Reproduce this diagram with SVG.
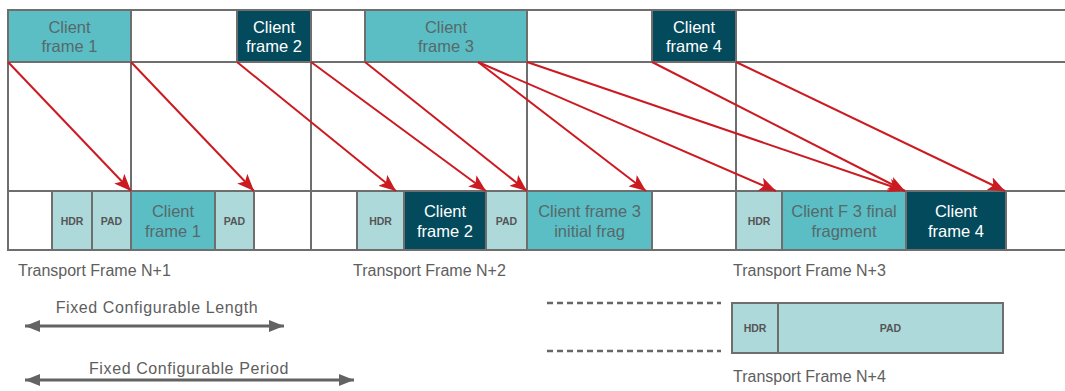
<svg xmlns="http://www.w3.org/2000/svg" width="1065" height="391" viewBox="0 0 1065 391">
<style>
.tl{fill:#5BBEC4;stroke:#6E6E6E;stroke-width:2}
.dk{fill:#034A5C;stroke:#6E6E6E;stroke-width:2}
.lt{fill:#ADD9DB;stroke:#6E6E6E;stroke-width:2}
.wh{fill:#FFFFFF;stroke:#6E6E6E;stroke-width:2}
.gl{stroke:#6E6E6E;stroke-width:2;fill:none}
.ct{font-family:"Liberation Sans",Arial,sans-serif;font-size:16.5px;fill:#56696B;text-anchor:middle}
.cw{font-family:"Liberation Sans",Arial,sans-serif;font-size:16.5px;fill:#FFFFFF;text-anchor:middle}
.hp{font-family:"Liberation Sans",Arial,sans-serif;font-size:10.5px;font-weight:bold;fill:#555555;text-anchor:middle}
.lb{font-family:"Liberation Sans",Arial,sans-serif;font-size:16px;fill:#5E5E5E}
.fx{font-family:"Liberation Sans",Arial,sans-serif;font-size:16px;fill:#5E5E5E;letter-spacing:0.6px;text-anchor:middle}
.ra{stroke:#CC1A21;stroke-width:2;fill:none;marker-end:url(#rh)}
.ga{stroke:#636363;stroke-width:3;fill:none;marker-start:url(#gs);marker-end:url(#ge)}
.ds{stroke:#666666;stroke-width:2.6;stroke-dasharray:6 4;fill:none}
</style>
<defs>
<marker id="rh" markerUnits="userSpaceOnUse" markerWidth="18" markerHeight="14" refX="17" refY="7" orient="auto">
<path d="M0,0 L17,7 L0,14 L4,7 z" fill="#CC1A21"/>
</marker>
<marker id="ge" markerUnits="userSpaceOnUse" markerWidth="16" markerHeight="12" refX="15" refY="6" orient="auto">
<path d="M0,0 L15,6 L0,12 z" fill="#636363"/>
</marker>
<marker id="gs" markerUnits="userSpaceOnUse" markerWidth="16" markerHeight="12" refX="0" refY="6" orient="auto">
<path d="M15,0 L0,6 L15,12 z" fill="#636363"/>
</marker>
</defs>

<g id="grid">
<line class="gl" x1="8" y1="10" x2="1065" y2="10"/>
<line class="gl" x1="8" y1="62" x2="1065" y2="62"/>
<line class="gl" x1="8" y1="191" x2="1065" y2="191"/>
<line class="gl" x1="8" y1="250" x2="1065" y2="250"/>
<line class="gl" x1="8" y1="10" x2="8" y2="250"/>
<line class="gl" x1="131" y1="10" x2="131" y2="250"/>
<line class="gl" x1="311" y1="10" x2="311" y2="250"/>
<line class="gl" x1="527" y1="10" x2="527" y2="250"/>
<line class="gl" x1="736" y1="10" x2="736" y2="250"/>
</g>

<g id="client-frame-1">
<rect class="tl" x="8" y="10" width="123" height="52"/>
<text class="ct" x="69.5" y="33">Client</text>
<text class="ct" x="69.5" y="52">frame 1</text>
</g>
<g id="client-frame-2">
<rect class="dk" x="237" y="10" width="74" height="52"/>
<text class="cw" x="274" y="33">Client</text>
<text class="cw" x="274" y="52">frame 2</text>
</g>
<g id="client-frame-3">
<rect class="tl" x="365" y="10" width="162" height="52"/>
<text class="ct" x="446" y="33">Client</text>
<text class="ct" x="446" y="52">frame 3</text>
</g>
<g id="client-frame-4">
<rect class="dk" x="652" y="10" width="84" height="52"/>
<text class="cw" x="694" y="33">Client</text>
<text class="cw" x="694" y="52">frame 4</text>
</g>

<g id="transport-n1">
<rect class="wh" x="8" y="191" width="44" height="59"/>
<rect class="lt" x="52" y="191" width="40" height="59"/>
<text class="hp" x="72" y="225">HDR</text>
<rect class="lt" x="92" y="191" width="39" height="59"/>
<text class="hp" x="111.5" y="225">PAD</text>
<rect class="tl" x="131" y="191" width="84" height="59"/>
<text class="ct" x="173" y="217">Client</text>
<text class="ct" x="173" y="237">frame 1</text>
<rect class="lt" x="215" y="191" width="39" height="59"/>
<text class="hp" x="234.5" y="225">PAD</text>
<rect class="wh" x="254" y="191" width="57" height="59"/>
<text class="lb" x="18" y="276">Transport Frame N+1</text>
</g>

<g id="transport-n2">
<rect class="wh" x="311" y="191" width="46" height="59"/>
<rect class="lt" x="357" y="191" width="47" height="59"/>
<text class="hp" x="380.5" y="225">HDR</text>
<rect class="dk" x="404" y="191" width="82" height="59"/>
<text class="cw" x="445" y="217">Client</text>
<text class="cw" x="445" y="237">frame 2</text>
<rect class="lt" x="486" y="191" width="41" height="59"/>
<text class="hp" x="506.5" y="225">PAD</text>
<rect class="tl" x="527" y="191" width="125" height="59"/>
<text class="ct" x="589.5" y="217">Client frame 3</text>
<text class="ct" x="589.5" y="237">initial frag</text>
<rect class="wh" x="652" y="191" width="84" height="59"/>
<text class="lb" x="353" y="276">Transport Frame N+2</text>
</g>

<g id="transport-n3">
<rect class="lt" x="736" y="191" width="46" height="59"/>
<text class="hp" x="759" y="225">HDR</text>
<rect class="tl" x="782" y="191" width="124" height="59"/>
<text class="ct" x="844" y="217">Client F 3 final</text>
<text class="ct" x="844" y="237">fragment</text>
<rect class="dk" x="906" y="191" width="100" height="59"/>
<text class="cw" x="956" y="217">Client</text>
<text class="cw" x="956" y="237">frame 4</text>
<text class="lb" x="733" y="276">Transport Frame N+3</text>
</g>

<g id="transport-n4">
<line class="ds" x1="547" y1="303" x2="721" y2="303"/>
<line class="ds" x1="547" y1="351" x2="721" y2="351"/>
<rect class="lt" x="732" y="303" width="46" height="50"/>
<text class="hp" x="755" y="332">HDR</text>
<rect class="lt" x="778" y="303" width="225" height="50"/>
<text class="hp" x="890.5" y="332">PAD</text>
<text class="lb" x="733" y="382">Transport Frame N+4</text>
</g>

<g id="legend">
<text class="fx" x="157" y="313">Fixed Configurable Length</text>
<line class="ga" x1="25" y1="326" x2="284" y2="326"/>
<text class="fx" x="189" y="374">Fixed Configurable Period</text>
<line class="ga" x1="25" y1="380" x2="354" y2="380"/>
</g>

<g id="connectors">
<line class="ra" x1="8" y1="62" x2="131" y2="191"/>
<line class="ra" x1="131" y1="62" x2="254" y2="191"/>
<line class="ra" x1="237" y1="62" x2="396" y2="191"/>
<line class="ra" x1="311" y1="62" x2="486" y2="191"/>
<line class="ra" x1="365" y1="62" x2="527" y2="191"/>
<line class="ra" x1="478" y1="62" x2="646" y2="191"/>
<line class="ra" x1="478" y1="62" x2="776" y2="191"/>
<line class="ra" x1="527" y1="62" x2="905" y2="191"/>
<line class="ra" x1="652" y1="62" x2="905" y2="191"/>
<line class="ra" x1="736" y1="62" x2="1005" y2="191"/>
</g>
</svg>
